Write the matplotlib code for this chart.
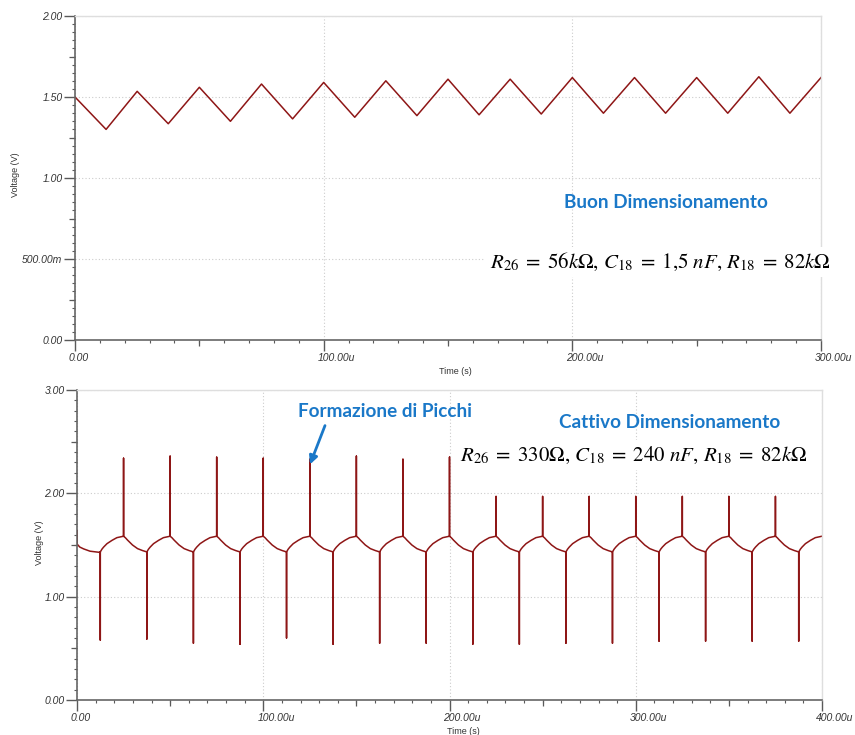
import numpy as np
import matplotlib
matplotlib.use("Agg")
import matplotlib.pyplot as plt
from matplotlib.ticker import MultipleLocator, FixedLocator, NullFormatter
from matplotlib.markers import TICKDOWN, TICKLEFT

plt.rcParams['mathtext.fontset'] = 'stix'

# ---------------- data ----------------
# Top trace: triangular ripple (time in microseconds, voltage in volts)
good_t = [0, 12.5, 25, 37.5, 50, 62.5, 75, 87.5, 100, 112.5, 125, 137.5, 150,
          162.5, 175, 187.5, 200, 212.5, 225, 237.5, 250, 262.5, 275, 287.5, 300]
good_v = [1.50, 1.30, 1.535, 1.335, 1.56, 1.35, 1.58, 1.365, 1.59, 1.375, 1.60,
          1.385, 1.61, 1.39, 1.61, 1.395, 1.62, 1.40, 1.62, 1.40, 1.62, 1.40,
          1.625, 1.40, 1.62]

# Bottom trace: start-up segment
bad_start_t = [0, 0, 0, 1.5, 3.6, 7.0, 12.5]
bad_start_v = [1.51, 1.64, 1.51, 1.48, 1.462, 1.44, 1.428]
# rising arc after each downward spike (offset from spike time)
bad_rise_dt = [0, 0.9, 1.8, 3.6, 6.3, 8.9, 12.5]
bad_rise_v = [1.433, 1.46, 1.48, 1.513, 1.545, 1.571, 1.585]
# decaying arc after each upward spike
bad_decay_dt = [0, 1.0, 2.1, 4.8, 7.5, 10.2, 12.5]
bad_decay_v = [1.585, 1.57, 1.548, 1.50, 1.465, 1.446, 1.433]
# spike instants and extreme values
down_spike_t = [12.5, 37.5, 62.5, 87.5, 112.5, 137.5, 162.5, 187.5,
                212.5, 237.5, 262.5, 287.5, 312.5, 337.5, 362.5, 387.5]
down_spike_v = [0.58, 0.59, 0.55, 0.54, 0.60, 0.54, 0.55, 0.55,
                0.54, 0.54, 0.55, 0.55, 0.57, 0.57, 0.57, 0.57]
up_spike_t = [25, 50, 75, 100, 125, 150, 175, 200, 225, 250, 275, 300, 325, 350, 375]
up_spike_v = [2.34, 2.36, 2.35, 2.34, 2.33, 2.36, 2.33, 2.35,
              1.97, 1.97, 1.97, 1.97, 1.97, 1.97, 1.97]

top_yticks = [0, 0.5, 1.0, 1.5, 2.0]
top_ylabels = ["0.00", "500.00m", "1.00", "1.50", "2.00"]
top_xticks = [0, 100, 200, 300]
top_xlabels = ["0.00", "100.00u", "200.00u", "300.00u"]
bot_yticks = [0, 1, 2, 3]
bot_ylabels = ["0.00", "1.00", "2.00", "3.00"]
bot_xticks = [0, 100, 200, 300, 400]
bot_xlabels = ["0.00", "100.00u", "200.00u", "300.00u", "400.00u"]

# ---------------- assemble bottom trace ----------------
bt = list(bad_start_t)
bv = list(bad_start_v)
for i, (ts, vs) in enumerate(zip(down_spike_t, down_spike_v)):
    base = bad_rise_v[0]
    bt += [ts, ts, ts]
    bv += [base, vs, base]
    bt += [ts + d for d in bad_rise_dt]
    bv += list(bad_rise_v)
    if i < len(up_spike_t):
        tp, vp = up_spike_t[i], up_spike_v[i]
        top = bad_decay_v[0]
        bt += [tp, tp, tp]
        bv += [top, vp, top]
        bt += [tp + d for d in bad_decay_dt]
        bv += list(bad_decay_v)

# ---------------- styling ----------------
W, H = 855, 735
LINE = '#8e1616'
BLUE = '#1a78c8'
TXT = '#333333'
TICKC = '#5a5a5a'
tick_font = dict(family='Liberation Sans', style='italic', size=7.5, color=TXT)

fig = plt.figure(figsize=(W / 100, H / 100), dpi=100)


def px_axes(l, t, r, b):
    return fig.add_axes([l / W, 1 - b / H, (r - l) / W, (b - t) / H])


def style_axes(ax, xlim, ylim, xticks, xlabels, yticks, ylabels,
               xminor, yminor, xmid, ymid):
    ax.set_xlim(*xlim)
    ax.set_ylim(*ylim)
    for s in ('top', 'right'):
        ax.spines[s].set_color('#dedede')
        ax.spines[s].set_linewidth(1.0)
    for s in ('left', 'bottom'):
        ax.spines[s].set_color('#666666')
        ax.spines[s].set_linewidth(1.2)
    ax.xaxis.set_major_locator(FixedLocator(xticks))
    ax.yaxis.set_major_locator(FixedLocator(yticks))
    ax.xaxis.set_minor_locator(MultipleLocator(xminor))
    ax.yaxis.set_minor_locator(MultipleLocator(yminor))
    ax.set_yticklabels(ylabels, fontdict=tick_font)
    ax.xaxis.set_major_formatter(NullFormatter())
    ax.tick_params(which='major', direction='out', length=8, width=1.0,
                   color=TICKC, pad=1)
    ax.tick_params(which='minor', direction='out', length=2.5, width=0.8,
                   color=TICKC)
    ax.tick_params(axis='x', which='major', labelbottom=False)
    ax.grid(True, which='major', color='#cccccc', linestyle=(0, (1, 2)),
            linewidth=0.8)
    ax.set_axisbelow(True)
    # intermediate (half-decade) ticks
    ax.plot(xmid, [0] * len(xmid), ls='none', marker=TICKDOWN, ms=4.5,
            mew=0.9, color=TICKC, transform=ax.get_xaxis_transform(),
            clip_on=False)
    ax.plot([0] * len(ymid), ymid, ls='none', marker=TICKLEFT, ms=4.5,
            mew=0.9, color=TICKC, transform=ax.get_yaxis_transform(),
            clip_on=False)
    for x, lab in zip(xticks, xlabels):
        ax.annotate(lab, xy=(x, 0), xycoords=('data', 'axes fraction'),
                    xytext=(-6, -13), textcoords='offset pixels',
                    ha='left', va='top', annotation_clip=False, **tick_font)


# top chart
ax1 = px_axes(75, 16, 821, 340)
ax1.plot(good_t, good_v, color=LINE, lw=1.1)
style_axes(ax1, (0, 300), (0, 2), top_xticks, top_xlabels,
           top_yticks, top_ylabels, 10, 0.05,
           [50, 150, 250], [0.25, 0.75, 1.25, 1.75])

# bottom chart
ax2 = px_axes(77, 390, 822, 700)
ax2.plot(bt, bv, color=LINE, lw=1.1)
style_axes(ax2, (0, 400), (0, 3), bot_xticks, bot_xlabels,
           bot_yticks, bot_ylabels, 10, 0.1,
           [50, 150, 250, 350], [0.5, 1.5, 2.5])

lab_font = dict(family='Liberation Sans', size=6.5, color=TXT)
fig.text(15 / W, 1 - 175 / H, "Voltage (V)", rotation=90, ha='center',
         va='center', **lab_font)
fig.text(39 / W, 1 - 543 / H, "Voltage (V)", rotation=90, ha='center',
         va='center', **lab_font)
fig.text(455 / W, 1 - 372 / H, "Time (s)", ha='center', va='center', **lab_font)
fig.text(463 / W, 1 - 731 / H, "Time (s)", ha='center', va='center', **lab_font)

# annotations
title_font = dict(family='Lato', weight='bold', size=13.6, color=BLUE)
fig.text(666 / W, 1 - 202 / H, "Buon Dimensionamento", ha='center',
         va='center', **title_font)
fig.text(670 / W, 1 - 422 / H, "Cattivo Dimensionamento", ha='center',
         va='center', **title_font)
fig.text(385 / W, 1 - 411 / H, "Formazione di Picchi", ha='center',
         va='center', **title_font)

box = dict(facecolor='white', edgecolor='none', pad=3)
fig.text(660 / W, 1 - 262 / H,
         r'$R_{26}\;=\;56k\Omega,\,C_{18}\;=\;1{,}5\ nF,\,R_{18}\;=\;82k\Omega$',
         ha='center', va='center', size=15, color='black', bbox=box)
fig.text(634 / W, 1 - 455 / H,
         r'$R_{26}\;=\;330\Omega,\,C_{18}\;=\;240\ nF,\,R_{18}\;=\;82k\Omega$',
         ha='center', va='center', size=15, color='black', bbox=box)

fig.patches.append(matplotlib.patches.FancyArrowPatch(
    (326 / W, 1 - 423 / H), (309 / W, 1 - 467 / H),
    transform=fig.transFigure, arrowstyle='-|>', mutation_scale=12,
    color=BLUE, lw=2.0))

fig.savefig("out.png", dpi=100)
